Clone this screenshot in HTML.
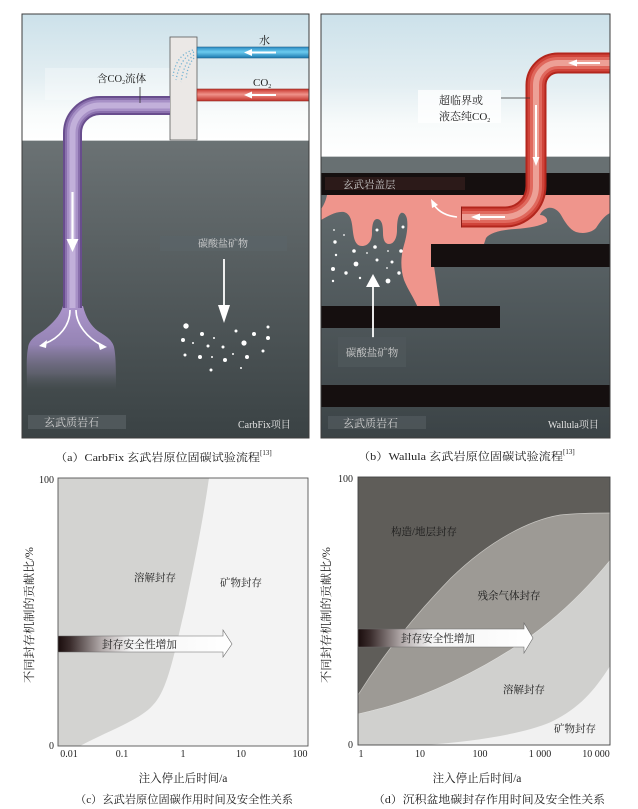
<!DOCTYPE html>
<html><head><meta charset="utf-8"><style>
html,body{margin:0;padding:0;background:#fff;}
svg{display:block;}
text{font-family:"Liberation Serif","Noto Serif CJK SC",serif;}
</style></head><body>
<svg width="638" height="809" viewBox="0 0 638 809" xmlns="http://www.w3.org/2000/svg">
<defs>
<linearGradient id="sky" x1="0" y1="0" x2="0" y2="1">
<stop offset="0" stop-color="#cce1ea"/><stop offset="0.5" stop-color="#e3eef2"/><stop offset="0.78" stop-color="#f8fbfb"/><stop offset="1" stop-color="#ffffff"/></linearGradient>
<linearGradient id="gndA" x1="0" y1="0" x2="0" y2="1"><stop offset="0" stop-color="#6b7274"/><stop offset="1" stop-color="#3a4244"/></linearGradient>
<linearGradient id="gndB" x1="0" y1="0" x2="0" y2="1"><stop offset="0" stop-color="#626b6e"/><stop offset="1" stop-color="#3b4346"/></linearGradient>
<linearGradient id="plume" x1="0" y1="307" x2="0" y2="390" gradientUnits="userSpaceOnUse"><stop offset="0" stop-color="#ab94cb"/><stop offset="0.45" stop-color="#9584b4"/><stop offset="0.8" stop-color="#6f6d80" stop-opacity="0.6"/><stop offset="1" stop-color="#555c60" stop-opacity="0"/></linearGradient>
<linearGradient id="blue" x1="0" y1="0" x2="0" y2="1"><stop offset="0" stop-color="#2b8cc4"/><stop offset="0.45" stop-color="#6ccbef"/><stop offset="1" stop-color="#1a78ae"/></linearGradient>
<linearGradient id="redp" x1="0" y1="0" x2="0" y2="1"><stop offset="0" stop-color="#c7352c"/><stop offset="0.45" stop-color="#f0928a"/><stop offset="1" stop-color="#c03028"/></linearGradient>
<linearGradient id="arr" x1="0" y1="0" x2="1" y2="0"><stop offset="0" stop-color="#1a0d0d"/><stop offset="0.07" stop-color="#3a2c2c"/><stop offset="0.25" stop-color="#b2aaaa"/><stop offset="0.42" stop-color="#f5f5f5"/><stop offset="1" stop-color="#ffffff"/></linearGradient>
<clipPath id="ca"><rect x="22" y="14" width="287" height="424"/></clipPath>
<clipPath id="cb"><rect x="321" y="14" width="289" height="424"/></clipPath>
<clipPath id="cd"><rect x="358" y="477" width="252" height="268"/></clipPath>
</defs>

<!-- ================= Panel (a) ================= -->
<g clip-path="url(#ca)">
<rect x="22" y="14" width="287" height="126" fill="url(#sky)"/>
<rect x="45" y="68" width="125" height="32" fill="#ffffff" opacity="0.3"/>
<rect x="22" y="140" width="287" height="298" fill="url(#gndA)"/>
<line x1="22" y1="140.5" x2="309" y2="140.5" stroke="#c9cccd" stroke-width="1"/>
<rect x="170" y="37" width="27" height="103" fill="#ebe8e6" stroke="#5a5a5a" stroke-width="0.8"/>
<g fill="none" stroke="#74b3d3" stroke-width="1.3" stroke-dasharray="1.2 2.2">
<path d="M194,52 Q180,58 176,80"/>
<path d="M194,55 Q184,62 181,82"/>
<path d="M194,58 Q187,66 186,80"/>
<path d="M193,50 Q176,55 173,76"/>
</g>
<rect x="197" y="47" width="113" height="11" fill="url(#blue)" stroke="#22628a" stroke-width="0.6"/>
<rect x="197" y="89" width="113" height="12" fill="url(#redp)" stroke="#8e2a24" stroke-width="0.6"/>
<line x1="276" y1="52.5" x2="250" y2="52.5" stroke="#fff" stroke-width="2"/>
<polygon points="244,52.5 252,49 252,56" fill="#fff"/>
<line x1="276" y1="95" x2="250" y2="95" stroke="#fff" stroke-width="2"/>
<polygon points="244,95 252,91.5 252,98.5" fill="#fff"/>
<path d="M63,306 C60,316 52,324 43,331 C35,336 29,340 28,348 C26,358 27,372 27,392 L116,392 C116,372 116,356 114,347 C112,339 104,335 98,331 C91,326 86,318 83,306 Z" fill="url(#plume)"/>
<g fill="none" stroke-linecap="butt">
<path d="M170,105.5 H100 A27.5,27.5 0 0 0 72.5,133 V308" stroke="#684d8d" stroke-width="19"/>
<path d="M170,105.5 H100 A27.5,27.5 0 0 0 72.5,133 V308" stroke="#8a70ad" stroke-width="15"/>
<path d="M170,105.5 H100 A27.5,27.5 0 0 0 72.5,133 V308" stroke="#a790c6" stroke-width="11"/>
<path d="M170,105.5 H100 A27.5,27.5 0 0 0 72.5,133 V308" stroke="#c2b0da" stroke-width="6"/>
</g>
<line x1="72.5" y1="192" x2="72.5" y2="242" stroke="#fff" stroke-width="2.2"/>
<polygon points="66.5,239 78.5,239 72.5,252" fill="#fff"/>
<g fill="none" stroke="#fff" stroke-width="1.6">
<path d="M70,310 C70,325 60,338 44,344"/>
<path d="M76,310 C76,325 88,338 101,345"/>
</g>
<polygon points="39,346 47,340 46,348" fill="#fff"/>
<polygon points="107,347 98,342 100,350" fill="#fff"/>
<line x1="140" y1="87" x2="140" y2="103" stroke="#333" stroke-width="0.8"/>
<text x="97" y="82" font-size="10.5" fill="#222">含CO<tspan font-size="6" dy="2">2</tspan><tspan dy="-2">流体</tspan></text>
<text x="259" y="44" font-size="11" fill="#222">水</text>
<text x="253" y="86" font-size="11" fill="#222">CO<tspan font-size="6" dy="2">2</tspan></text>
<rect x="160" y="236" width="127" height="15" fill="#5b6467" opacity="0.85"/>
<text x="223" y="247" font-size="10" fill="#d6d6d6" text-anchor="middle">碳酸盐矿物</text>
<line x1="224" y1="259" x2="224" y2="310" stroke="#fff" stroke-width="1.8"/>
<polygon points="218,305 230,305 224,323" fill="#fff"/>
<g fill="#fff">
<circle cx="186" cy="326" r="2.7"/><circle cx="202" cy="334" r="2"/><circle cx="183" cy="340" r="2"/>
<circle cx="193" cy="343" r="1"/><circle cx="208" cy="346" r="1.5"/><circle cx="214" cy="338" r="1"/>
<circle cx="223" cy="347" r="1.5"/><circle cx="236" cy="331" r="1.5"/><circle cx="244" cy="343" r="2.6"/>
<circle cx="254" cy="334" r="2"/><circle cx="268" cy="327" r="1.5"/><circle cx="268" cy="338" r="2"/>
<circle cx="263" cy="351" r="1.5"/><circle cx="247" cy="357" r="2"/><circle cx="233" cy="354" r="1"/>
<circle cx="225" cy="360" r="2"/><circle cx="212" cy="357" r="1"/><circle cx="200" cy="357" r="2"/>
<circle cx="185" cy="355" r="1.5"/><circle cx="211" cy="370" r="1.5"/><circle cx="241" cy="368" r="1"/>
</g>
<rect x="28" y="415" width="98" height="14" fill="#545c5f" opacity="0.85"/>
<text x="44" y="426" font-size="11" fill="#cfcfcf">玄武质岩石</text>
<text x="238" y="428" font-size="10" fill="#e2e2e2">CarbFix项目</text>
</g>
<rect x="22" y="14" width="287" height="424" fill="none" stroke="#3c3c3c" stroke-width="1"/>
<text x="55" y="461" font-size="11" fill="#222" textLength="205" lengthAdjust="spacingAndGlyphs">（a）CarbFix 玄武岩原位固碳试验流程</text>
<text x="260" y="455" font-size="7" fill="#222">[13]</text>

<!-- ================= Panel (b) ================= -->
<g clip-path="url(#cb)">
<rect x="321" y="14" width="289" height="142" fill="url(#sky)"/>
<rect x="321" y="156" width="289" height="17" fill="#687072"/>
<line x1="321" y1="156.5" x2="610" y2="156.5" stroke="#c9cccd" stroke-width="1"/>
<rect x="321" y="173" width="289" height="22" fill="#150f0f"/>
<rect x="321" y="195" width="289" height="243" fill="url(#gndB)"/>
<path d="M327,195 L610,195 L610,213 C604,216 600,222 596,228 C591,233 583,234 576,232 C569,229 565,222 561,215 C558,210 553,207 548,208 C544,209 541,212 540,215 C544,215 548,218 547,222 C540,226 530,228 515,229 C500,230 490,233 486,238 L482,250 L432,250 L434,266 C436,280 438,295 440,308 L418,308 C414,298 408,290 404,280 C400,268 401,255 404,245 C407,235 408,226 407,219 C406,214 403,212 401,213 C398,215 397,222 397,230 C397,238 394,244 389,244 C385,244 383,240 383,233 C383,226 382,219 377,219 C373,219 372,226 372,233 C372,241 368,246 362,246 C356,246 354,240 353,232 C352,222 351,214 344,212 C336,211 328,216 321,220 L321,209 C324,205 326,200 327,195 Z" fill="#ef958c"/>
<rect x="431" y="244" width="179" height="23" fill="#150f0f"/>
<rect x="321" y="306" width="179" height="22" fill="#150f0f"/>
<rect x="321" y="385" width="289" height="22" fill="#150f0f"/>
<rect x="325" y="177" width="140" height="13" fill="#2c1a19"/>
<text x="343" y="188" font-size="10.5" fill="#c9c9c9">玄武岩盖层</text>
<g fill="none" stroke-linecap="butt">
<path d="M612,63 H558 A22,22 0 0 0 536,85 V186 A31,31 0 0 1 505,217 H461" stroke="#b3261d" stroke-width="21"/>
<path d="M612,63 H558 A22,22 0 0 0 536,85 V186 A31,31 0 0 1 505,217 H461" stroke="#d0443a" stroke-width="17"/>
<path d="M612,63 H558 A22,22 0 0 0 536,85 V186 A31,31 0 0 1 505,217 H461" stroke="#e0685d" stroke-width="12"/>
<path d="M612,63 H558 A22,22 0 0 0 536,85 V186 A31,31 0 0 1 505,217 H461" stroke="#eda096" stroke-width="6"/>
</g>
<line x1="461.5" y1="206.5" x2="461.5" y2="227.5" stroke="#8c1e17" stroke-width="1"/>
<line x1="600" y1="63" x2="576" y2="63" stroke="#fff" stroke-width="2"/>
<polygon points="568,63 577,59.5 577,66.5" fill="#fff"/>
<line x1="536" y1="105" x2="536" y2="158" stroke="#fff" stroke-width="2"/>
<polygon points="536,166 532.5,157 539.5,157" fill="#fff"/>
<line x1="505" y1="217" x2="480" y2="217" stroke="#fff" stroke-width="2"/>
<polygon points="471,217 480,213.5 480,220.5" fill="#fff"/>
<path d="M457,217 C447,216 439,212 434,205" fill="none" stroke="#fff" stroke-width="1.6"/>
<polygon points="431,199 438,205 432,208" fill="#fff"/>
<rect x="418" y="90" width="83" height="33" fill="#ffffff" opacity="0.75"/>
<line x1="501" y1="98" x2="530" y2="98" stroke="#333" stroke-width="0.8"/>
<text x="439" y="104" font-size="11" fill="#222">超临界或</text>
<text x="439" y="120" font-size="11" fill="#222">液态纯CO<tspan font-size="6" dy="2">2</tspan></text>
<g fill="#fff">
<circle cx="334" cy="230" r="0.9"/><circle cx="344" cy="235" r="0.9"/><circle cx="335" cy="242" r="1.7"/>
<circle cx="354" cy="251" r="1.8"/><circle cx="377" cy="230" r="1.5"/><circle cx="403" cy="227" r="1.5"/>
<circle cx="375" cy="247" r="1.8"/><circle cx="367" cy="253" r="0.9"/><circle cx="388" cy="251" r="0.9"/>
<circle cx="401" cy="251" r="1.8"/><circle cx="336" cy="255" r="1.2"/><circle cx="356" cy="264" r="2.4"/>
<circle cx="377" cy="260" r="1.5"/><circle cx="392" cy="262" r="1.5"/><circle cx="333" cy="269" r="2"/>
<circle cx="346" cy="273" r="1.7"/><circle cx="360" cy="278" r="1.2"/><circle cx="387" cy="268" r="0.9"/>
<circle cx="399" cy="273" r="1.7"/><circle cx="388" cy="281" r="2.4"/><circle cx="333" cy="281" r="1.2"/>
</g>
<line x1="373" y1="284" x2="373" y2="338" stroke="#fff" stroke-width="1.8"/>
<polygon points="366,287 380,287 373,274" fill="#fff"/>
<rect x="338" y="337" width="68" height="30" fill="#4f575a" opacity="0.85"/>
<text x="372" y="356" font-size="10.5" fill="#d0d0d0" text-anchor="middle">碳酸盐矿物</text>
<rect x="328" y="416" width="98" height="13" fill="#4f575a" opacity="0.85"/>
<text x="343" y="427" font-size="11" fill="#cfcfcf">玄武质岩石</text>
<text x="548" y="428" font-size="10" fill="#e2e2e2">Wallula项目</text>
</g>
<rect x="321" y="14" width="289" height="424" fill="none" stroke="#3c3c3c" stroke-width="1"/>
<text x="358" y="460" font-size="11" fill="#222" textLength="205" lengthAdjust="spacingAndGlyphs">（b）Wallula 玄武岩原位固碳试验流程</text>
<text x="563" y="454" font-size="7" fill="#222">[13]</text>

<!-- ================= Plot (c) ================= -->
<rect x="58" y="478" width="250" height="268" fill="#f3f3f3"/>
<path d="M58,478 H209 C203,520 195,560 185,608 C175,650 168,690 153,705 C140,720 110,730 80,746 H58 Z" fill="#d3d3d1"/>
<rect x="58" y="478" width="250" height="268" fill="none" stroke="#555" stroke-width="0.9"/>
<text x="155" y="581" font-size="10.5" fill="#222" text-anchor="middle">溶解封存</text>
<text x="241" y="586" font-size="10.5" fill="#222" text-anchor="middle">矿物封存</text>
<path d="M58,636 H223 V630 L232,644 L223,657 V652 H58 Z" fill="url(#arr)" stroke="#6a6a6a" stroke-width="0.6"/>
<text x="102" y="648" font-size="11" fill="#222" textLength="75" lengthAdjust="spacingAndGlyphs">封存安全性增加</text>
<text x="54" y="483" font-size="10" fill="#222" text-anchor="end">100</text>
<text x="54" y="749" font-size="10" fill="#222" text-anchor="end">0</text>
<g font-size="10" fill="#222" text-anchor="middle">
<text x="69" y="757">0.01</text><text x="122" y="757">0.1</text><text x="183" y="757">1</text><text x="241" y="757">10</text><text x="300" y="757">100</text>
</g>
<text x="183" y="782" font-size="11.5" fill="#222" text-anchor="middle">注入停止后时间/a</text>
<text transform="translate(33,615) rotate(-90)" font-size="11.5" fill="#222" text-anchor="middle" textLength="136" lengthAdjust="spacingAndGlyphs">不同封存机制的贡献比/%</text>
<text x="75" y="803" font-size="11" fill="#222" textLength="218" lengthAdjust="spacingAndGlyphs">（c）玄武岩原位固碳作用时间及安全性关系</text>

<!-- ================= Plot (d) ================= -->
<g clip-path="url(#cd)">
<rect x="358" y="477" width="252" height="268" fill="#5f5d59"/>
<path d="M358,695 C380,660 410,620 451,578 C490,540 530,520 560,515 C580,513 600,513 612,513 L612,746 L358,746 Z" fill="#9d9a95" stroke="#c8c6c2" stroke-width="0.7"/>
<path d="M358,714 C400,705 440,690 485,665 C530,640 570,610 612,558 L612,746 L358,746 Z" fill="#d0d0ce" stroke="#e0e0de" stroke-width="0.6"/>
<path d="M418,745.5 C470,742 520,735 551,722 C580,708 595,690 612,663 L612,746 Z" fill="#f1f1f1"/>
</g>
<rect x="358" y="477" width="252" height="268" fill="none" stroke="#444" stroke-width="0.9"/>
<text x="424" y="535" font-size="10.5" fill="#1a1a1a" text-anchor="middle">构造/地层封存</text>
<text x="509" y="599" font-size="10.5" fill="#1a1a1a" text-anchor="middle">残余气体封存</text>
<text x="524" y="693" font-size="10.5" fill="#1a1a1a" text-anchor="middle">溶解封存</text>
<text x="575" y="732" font-size="10.5" fill="#1a1a1a" text-anchor="middle">矿物封存</text>
<path d="M358,629 H524 V623 L533,638 L524,653 V647 H358 Z" fill="url(#arr)" stroke="#6a6a6a" stroke-width="0.6"/>
<text x="401" y="642" font-size="11" fill="#222" textLength="74" lengthAdjust="spacingAndGlyphs">封存安全性增加</text>
<text x="353" y="482" font-size="10" fill="#222" text-anchor="end">100</text>
<text x="353" y="748" font-size="10" fill="#222" text-anchor="end">0</text>
<g font-size="10" fill="#222" text-anchor="middle">
<text x="361" y="757">1</text><text x="420" y="757">10</text><text x="480" y="757">100</text><text x="540" y="757">1 000</text><text x="596" y="757">10 000</text>
</g>
<text x="477" y="782" font-size="11.5" fill="#222" text-anchor="middle">注入停止后时间/a</text>
<text transform="translate(330,615) rotate(-90)" font-size="11.5" fill="#222" text-anchor="middle" textLength="136" lengthAdjust="spacingAndGlyphs">不同封存机制的贡献比/%</text>
<text x="373" y="803" font-size="11" fill="#222" textLength="232" lengthAdjust="spacingAndGlyphs">（d）沉积盆地碳封存作用时间及安全性关系</text>
</svg>
</body></html>
